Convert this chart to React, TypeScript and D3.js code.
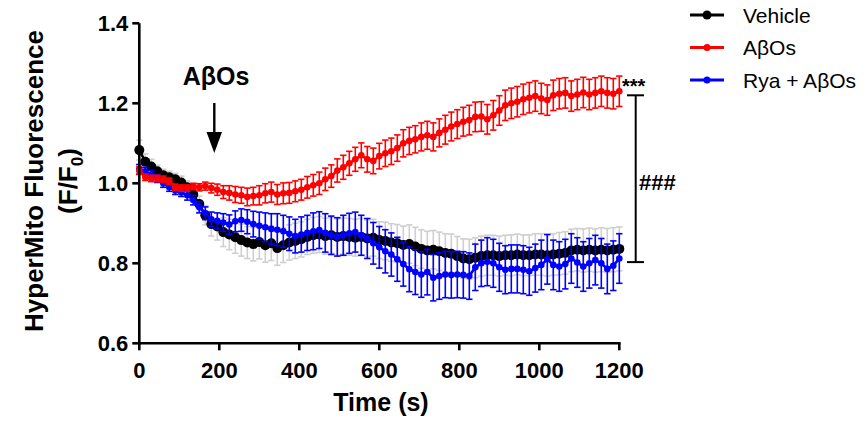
import React from "react";
import * as d3 from "d3";

const timeS = [
  0, 15, 30, 45, 60, 75, 90, 105, 120, 135, 150, 165, 180, 195, 210, 225, 240, 255, 270, 285,
  300, 315, 330, 345, 360, 375, 390, 405, 420, 435, 450, 465, 480, 495, 510, 525, 540, 555, 570, 585,
  600, 615, 630, 645, 660, 675, 690, 705, 720, 735, 750, 765, 780, 795, 810, 825, 840, 855, 870, 885,
  900, 915, 930, 945, 960, 975, 990, 1005, 1020, 1035, 1050, 1065, 1080, 1095, 1110, 1125, 1140, 1155, 1170, 1185,
  1200,
];

const vehicleMean = [
  1.083, 1.054, 1.042, 1.03, 1.02, 1.015, 1.01, 1.002, 0.99, 0.972, 0.948, 0.92, 0.898, 0.892, 0.878, 0.872, 0.865, 0.858, 0.852, 0.848,
  0.853, 0.845, 0.85, 0.838, 0.845, 0.852, 0.856, 0.86, 0.866, 0.87, 0.872, 0.868, 0.87, 0.866, 0.868, 0.866, 0.864, 0.866, 0.862, 0.864,
  0.858, 0.856, 0.852, 0.85, 0.846, 0.848, 0.842, 0.836, 0.832, 0.834, 0.83, 0.826, 0.824, 0.818, 0.812, 0.81, 0.814, 0.818, 0.82, 0.82,
  0.818, 0.82, 0.82, 0.822, 0.82, 0.82, 0.822, 0.822, 0.82, 0.822, 0.824, 0.826, 0.832, 0.834, 0.832, 0.834, 0.832, 0.834, 0.832, 0.834,
  0.836,
];
const vehicleSem = [
  0.025, 0.02, 0.018, 0.015, 0.015, 0.015, 0.015, 0.016, 0.016, 0.018, 0.02, 0.024, 0.03, 0.034, 0.036, 0.038, 0.04, 0.04, 0.04, 0.042,
  0.042, 0.042, 0.043, 0.043, 0.043, 0.044, 0.044, 0.044, 0.044, 0.045, 0.045, 0.045, 0.045, 0.045, 0.045, 0.046, 0.046, 0.046, 0.046, 0.046,
  0.046, 0.047, 0.047, 0.047, 0.047, 0.048, 0.048, 0.048, 0.048, 0.048, 0.048, 0.048, 0.049, 0.049, 0.049, 0.05, 0.05, 0.05, 0.05, 0.05,
  0.05, 0.05, 0.051, 0.051, 0.051, 0.051, 0.052, 0.052, 0.052, 0.052, 0.053, 0.053, 0.053, 0.053, 0.054, 0.054, 0.054, 0.055, 0.055, 0.055,
  0.055,
];

const abosMean = [
  1.032, 1.015, 1.012, 1.012, 1.01, 1.005, 0.99, 0.988, 0.988, 0.992, 0.99, 0.993, 0.988, 0.984, 0.978, 0.976, 0.972, 0.97, 0.966, 0.968,
  0.97, 0.975, 0.978, 0.972, 0.975, 0.976, 0.98, 0.984, 0.99, 0.995, 1.0, 1.01, 1.018, 1.032, 1.04, 1.05, 1.06, 1.07, 1.06, 1.056,
  1.068, 1.075, 1.08, 1.088, 1.1, 1.106, 1.11, 1.116, 1.12, 1.116, 1.126, 1.134, 1.142, 1.148, 1.154, 1.158, 1.166, 1.167, 1.16, 1.17,
  1.182, 1.195, 1.2, 1.204, 1.21, 1.214, 1.218, 1.212, 1.208, 1.22, 1.224, 1.226, 1.218, 1.222, 1.227, 1.222, 1.226, 1.23, 1.226, 1.224,
  1.23,
];
const abosSem = [
  0.01, 0.008, 0.008, 0.008, 0.008, 0.008, 0.008, 0.008, 0.008, 0.008, 0.009, 0.01, 0.012, 0.014, 0.016, 0.018, 0.02, 0.02, 0.022, 0.022,
  0.024, 0.024, 0.025, 0.025, 0.026, 0.026, 0.026, 0.026, 0.027, 0.027, 0.028, 0.028, 0.028, 0.029, 0.03, 0.03, 0.03, 0.031, 0.032, 0.032,
  0.032, 0.033, 0.033, 0.033, 0.034, 0.034, 0.034, 0.035, 0.035, 0.035, 0.035, 0.036, 0.036, 0.036, 0.036, 0.037, 0.037, 0.037, 0.037, 0.037,
  0.037, 0.038, 0.038, 0.038, 0.038, 0.038, 0.038, 0.038, 0.038, 0.038, 0.038, 0.038, 0.038, 0.038, 0.038, 0.038, 0.038, 0.038, 0.038, 0.038,
  0.038,
];

const ryaMean = [
  1.035, 1.03, 1.022, 1.012, 1.0, 0.99, 0.982, 0.977, 0.97, 0.958, 0.94, 0.925, 0.91, 0.906, 0.902, 0.897, 0.905, 0.908, 0.904, 0.898,
  0.894, 0.89, 0.886, 0.884, 0.88, 0.874, 0.868, 0.872, 0.876, 0.88, 0.883, 0.876, 0.87, 0.866, 0.87, 0.875, 0.878, 0.87, 0.862, 0.85,
  0.84, 0.83, 0.822, 0.81, 0.798, 0.785, 0.778, 0.772, 0.778, 0.764, 0.768, 0.772, 0.771, 0.772, 0.771, 0.768, 0.79, 0.8, 0.804, 0.8,
  0.79, 0.784, 0.786, 0.786, 0.784, 0.78, 0.788, 0.796, 0.81, 0.796, 0.792, 0.798, 0.812, 0.802, 0.792, 0.8, 0.808, 0.8, 0.786, 0.794,
  0.812,
];
const ryaSem = [
  0.012, 0.01, 0.01, 0.01, 0.01, 0.01, 0.01, 0.01, 0.012, 0.012, 0.014, 0.016, 0.018, 0.02, 0.022, 0.024, 0.026, 0.028, 0.03, 0.032,
  0.034, 0.036, 0.038, 0.04, 0.04, 0.042, 0.042, 0.044, 0.044, 0.046, 0.046, 0.048, 0.048, 0.048, 0.05, 0.05, 0.05, 0.05, 0.05, 0.052,
  0.052, 0.054, 0.054, 0.055, 0.055, 0.056, 0.056, 0.057, 0.057, 0.058, 0.058, 0.058, 0.058, 0.058, 0.058, 0.058, 0.058, 0.058, 0.06, 0.06,
  0.06, 0.06, 0.06, 0.06, 0.06, 0.06, 0.06, 0.062, 0.062, 0.062, 0.062, 0.062, 0.062, 0.062, 0.062, 0.062, 0.062, 0.062, 0.062, 0.062,
  0.062,
];

const xTicks = [0, 200, 400, 600, 800, 1000, 1200];
const yTicks = [0.6, 0.8, 1.0, 1.2, 1.4];
const legendLabels = ["Vehicle", "A\u03b2Os", "Rya + A\u03b2Os"];
const bracketTop = 1.22;
const bracketBottom = 0.803;

const FONT = "'Liberation Sans', Arial, sans-serif";

type Series = {
  name: string;
  mean: number[];
  sem: number[];
  color: string;
  errColor: string;
  r: number;
};

export default function App() {
  const width = 866;
  const height = 425;
  const x = d3.scaleLinear().domain([0, 1200]).range([139.3, 619.3]);
  const y = d3.scaleLinear().domain([0.6, 1.4]).range([343.3, 23.3]);

  const series: Series[] = [
    { name: legendLabels[0], mean: vehicleMean, sem: vehicleSem, color: "#000000", errColor: "#cfcfcf", r: 5 },
    { name: legendLabels[2], mean: ryaMean, sem: ryaSem, color: "#0000ff", errColor: "#0000ff", r: 3.3 },
    { name: legendLabels[1], mean: abosMean, sem: abosSem, color: "#ff0000", errColor: "#ff0000", r: 3.3 },
  ];

  const line = d3
    .line<number>()
    .x((_, i) => x(timeS[i]))
    .y((d) => y(d));

  const cap = 3.2;

  const legendItems = [
    { label: legendLabels[0], color: "#000000", r: 4.5 },
    { label: legendLabels[1], color: "#ff0000", r: 3.5 },
    { label: legendLabels[2], color: "#0000ff", r: 3.5 },
  ];

  return (
    <svg
      width={width}
      height={height}
      style={{ position: "absolute", left: 0, top: 0, background: "#fff" }}
      fontFamily={FONT}
    >
      <rect x={0} y={0} width={width} height={height} fill="#fff" />
      {series.map((s) => (
        <g key={s.name}>
          <g stroke={s.errColor} strokeWidth={1.6} fill="none">
            {s.mean.map((m, i) => {
              const cx = x(timeS[i]);
              const y1 = y(m + s.sem[i]);
              const y2 = y(m - s.sem[i]);
              return (
                <g key={i}>
                  <line x1={cx} x2={cx} y1={y1} y2={y2} />
                  <line x1={cx - cap} x2={cx + cap} y1={y1} y2={y1} />
                  <line x1={cx - cap} x2={cx + cap} y1={y2} y2={y2} />
                </g>
              );
            })}
          </g>
          <path d={line(s.mean) || ""} fill="none" stroke={s.color} strokeWidth={2.6} />
          <g fill={s.color}>
            {s.mean.map((m, i) => (
              <circle key={i} cx={x(timeS[i])} cy={y(m)} r={s.r} />
            ))}
          </g>
        </g>
      ))}

      {/* axes */}
      <g stroke="#000" strokeWidth={2.6}>
        <line x1={x(0)} x2={x(0)} y1={y(1.4)} y2={y(0.6) + 1.3} />
        <line x1={x(0) - 1.3} x2={x(1200) + 1.3} y1={y(0.6)} y2={y(0.6)} />
        {yTicks.map((t) => (
          <line key={t} x1={x(0) - 7} x2={x(0)} y1={y(t)} y2={y(t)} />
        ))}
        {xTicks.map((t) => (
          <line key={t} x1={x(t)} x2={x(t)} y1={y(0.6)} y2={y(0.6) + 7} />
        ))}
      </g>
      <g fontSize={22} fontWeight="bold" fill="#000">
        {yTicks.map((t) => (
          <text key={t} x={x(0) - 11} y={y(t) + 8} textAnchor="end">
            {t.toFixed(1)}
          </text>
        ))}
        {xTicks.map((t) => (
          <text key={t} x={x(t)} y={378} textAnchor="middle">
            {t}
          </text>
        ))}
      </g>
      <text x={381} y={411} fontSize={25} fontWeight="bold" textAnchor="middle">
        Time (s)
      </text>
      <g transform="translate(0,181)">
        <text transform="translate(43,0) rotate(-90)" fontSize={26} fontWeight="bold" textAnchor="middle">
          HyperMito Fluorescence
        </text>
        <text transform="translate(77,0) rotate(-90)" fontSize={26} fontWeight="bold" textAnchor="middle">
          (F/F<tspan fontSize={17} dy={6}>0</tspan>
          <tspan dy={-6}>)</tspan>
        </text>
      </g>

      {/* annotation */}
      <text x={216} y={85} fontSize={25} fontWeight="bold" textAnchor="middle">
        A{"\u03b2"}Os
      </text>
      <line x1={214.3} x2={214.3} y1={103} y2={134} stroke="#000" strokeWidth={2.4} />
      <path d="M206.5,132 L222,132 L214.3,153 Z" fill="#000" />

      {/* significance bracket */}
      <g stroke="#000" strokeWidth={2}>
        <line x1={635.7} x2={635.7} y1={y(bracketTop)} y2={y(bracketBottom)} />
        <line x1={627} x2={644} y1={y(bracketTop)} y2={y(bracketTop)} />
        <line x1={627} x2={644} y1={y(bracketBottom)} y2={y(bracketBottom)} />
      </g>
      <text x={622} y={93} fontSize={20} fontWeight="bold">
        ***
      </text>
      <text x={639} y={190} fontSize={22} fontWeight="bold">
        ###
      </text>

      {/* legend */}
      {legendItems.map((it, i) => {
        const ly = 15 + i * 32.5;
        return (
          <g key={it.label}>
            <line x1={690} x2={724} y1={ly} y2={ly} stroke={it.color} strokeWidth={3} />
            <circle cx={707} cy={ly} r={it.r} fill={it.color} />
            <text x={743} y={ly + 7.5} fontSize={21} fill="#000">
              {it.label}
            </text>
          </g>
        );
      })}
    </svg>
  );
}
